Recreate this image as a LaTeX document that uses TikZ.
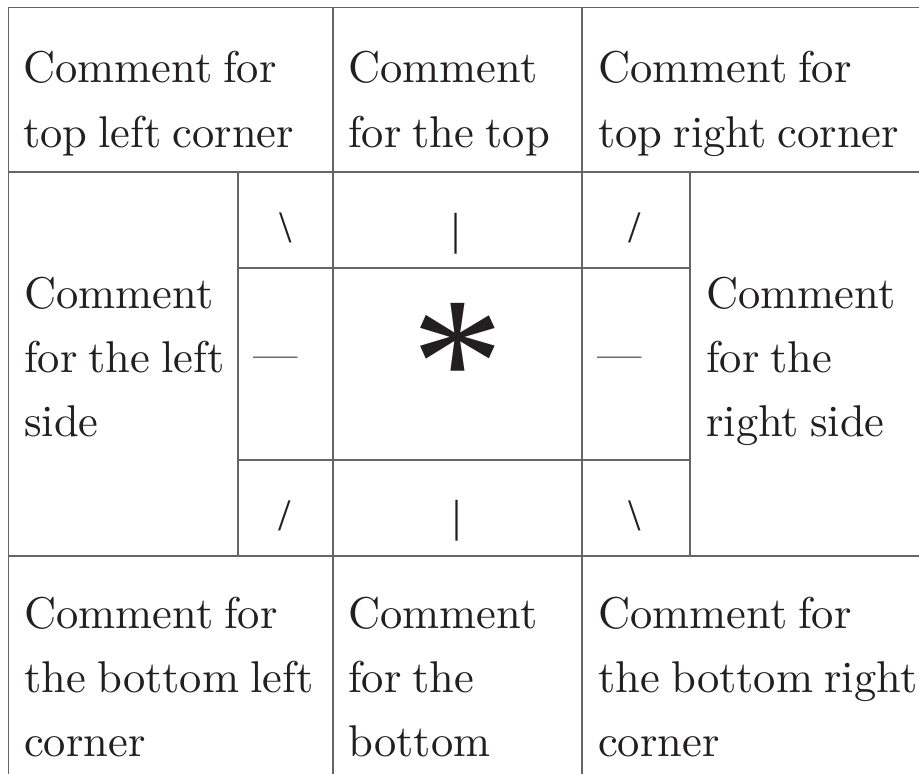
\documentclass[tikz,border=0pt]{standalone}
\usepackage{fontspec}
\newfontfamily\symfont{Liberation Serif}
\newfontfamily\lmten{lmroman10-regular.otf}[WordSpace=0.75]
\begin{document}
\begin{tikzpicture}[x=1pt,y=-1pt,
  grid/.style={draw=gridgray, line width=1.3pt},
  txt/.style={anchor=base west, inner sep=0pt, text=inkblack, font=\lmten\fontsize{44.5}{54}\selectfont},
  sym/.style={inner sep=0pt, text=inkblack, font=\symfont\fontsize{45}{54}\selectfont},
  star/.style={anchor=base, inner sep=0pt, text=inkblack, font=\symfont\fontsize{185}{185}\selectfont}]
\definecolor{gridgray}{HTML}{666666}
\definecolor{inkblack}{HTML}{231F20}
\useasboundingbox (0,0) rectangle (919,774);
\fill[white] (0,0) rectangle (919,774);
% grid lines
\draw[grid] (8.7,774) -- (8.7,7.3) -- (919,7.3);
\draw[grid] (8.7,172) -- (919,172);
\draw[grid] (8.7,556) -- (919,556);
\draw[grid] (333,7.3) -- (333,774);
\draw[grid] (582,7.3) -- (582,774);
\draw[grid] (238,172) -- (238,556);
\draw[grid] (690,172) -- (690,556);
\draw[grid] (238,268) -- (690,268);
\draw[grid] (238,460) -- (690,460);
% top row
\node[txt] (tl1) at (23,82) {Comment for};
\node[txt] (tl2) at (23,147) {top left corner};
\node[txt] (t1) at (348,82) {Comment};
\node[txt] (t2) at (348,147) {for the top};
\node[txt] (tr1) at (598,82) {Comment for};
\node[txt] (tr2) at (598,147) {top right corner};
% middle sides
\node[txt] (l1) at (24,308) {Comment};
\node[txt] (l2) at (24,372) {for the left};
\node[txt] (l3) at (24,436) {side};
\node[txt] (r1) at (706,308) {Comment};
\node[txt] (r2) at (706,372) {for the};
\node[txt] (r3) at (706,436) {right side};
% bottom row
\node[txt] (bl1) at (24,628) {Comment for};
\node[txt] (bl2) at (24,692) {the bottom left};
\node[txt] (bl3) at (24,756) {corner};
\node[txt] (b1) at (348,628) {Comment};
\node[txt] (b2) at (348,692) {for the};
\node[txt] (b3) at (348,756) {bottom};
\node[txt] (br1) at (598,628) {Comment for};
\node[txt] (br2) at (598,692) {the bottom right};
\node[txt] (br3) at (598,756) {corner};
% inner symbols
\node[sym] (s1) at (286,228) {\textbackslash};
\node[sym] (s2) at (456,234) {|};
\node[sym] (s3) at (635,228) {/};
\node[txt, anchor=base] (s4) at (276,369) {—};
\node[star] (s5) at (457.5,424) {*};
\node[txt, anchor=base] (s6) at (620,369) {—};
\node[sym] (s7) at (285,516) {/};
\node[sym] (s8) at (457,521) {|};
\node[sym] (s9) at (635,516) {\textbackslash};
\end{tikzpicture}
\end{document}
